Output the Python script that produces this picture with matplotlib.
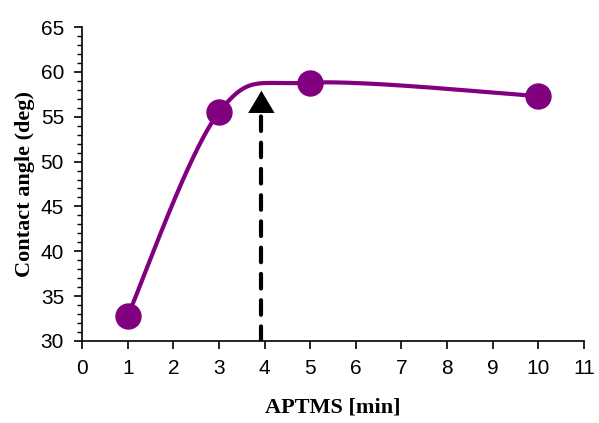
import numpy as np
import matplotlib.pyplot as plt
from matplotlib.ticker import MultipleLocator

# data
aptms_min = [1, 3, 5, 10]
contact_angle = [32.8, 55.5, 58.8, 57.3]
arrow_x = 3.93
arrow_top = 57.9


def excel_smooth(xs, ys, n=60):
    """Bezier smoothing through the points, like a spreadsheet 'smoothed line'."""
    p = np.column_stack([xs, ys]).astype(float)
    p = np.vstack([p[0], p, p[-1]])
    out = []
    for i in range(1, len(p) - 2):
        p0, p1, p2, p3 = p[i - 1], p[i], p[i + 1], p[i + 2]
        c1 = p1 + (p2 - p0) / 6.0
        c2 = p2 - (p3 - p1) / 6.0
        t = np.linspace(0, 1, n)[:, None]
        seg = ((1 - t) ** 3) * p1 + 3 * ((1 - t) ** 2) * t * c1 + 3 * (1 - t) * t ** 2 * c2 + t ** 3 * p2
        out.append(seg)
    curve = np.vstack(out)
    return curve[:, 0], curve[:, 1]


fig = plt.figure(figsize=(5.99, 4.23), dpi=100)
ax = fig.add_axes([0.137, 0.194, 0.838, 0.742])

purple = '#800080'
sx, sy = excel_smooth(aptms_min, contact_angle)
ax.plot(sx, sy, color=purple, lw=3, zorder=3)
ax.plot(aptms_min, contact_angle, 'o', color=purple, ms=18, zorder=4)

ax.plot([arrow_x, arrow_x], [30, arrow_top - 2.3], color='black', lw=3,
        ls=(0, (3.5, 2.8)), solid_capstyle='round', dash_capstyle='round', zorder=2)
ax.annotate('', xy=(arrow_x, arrow_top), xytext=(arrow_x, arrow_top - 2.5),
            arrowprops=dict(arrowstyle='-|>,head_length=1.6,head_width=0.95',
                            color='black', lw=0, shrinkA=0, shrinkB=0))

ax.set_xlim(0, 11)
ax.set_ylim(30, 65)
ax.xaxis.set_major_locator(MultipleLocator(1))
ax.yaxis.set_major_locator(MultipleLocator(5))
ax.yaxis.set_minor_locator(MultipleLocator(1))

for s in ['top', 'right']:
    ax.spines[s].set_visible(False)
for s in ['left', 'bottom']:
    ax.spines[s].set_linewidth(1.2)

ax.tick_params(which='major', direction='out', length=6, width=1.2,
               labelsize=15, pad=7)
ax.tick_params(which='minor', direction='out', length=3.5, width=1)
for lab in ax.get_xticklabels() + ax.get_yticklabels():
    lab.set_family('Liberation Sans')

ax.set_xlabel('APTMS [min]', family='Liberation Serif', fontweight='bold',
              fontsize=16, labelpad=14)
ax.set_ylabel('Contact angle (deg)', family='Liberation Serif', fontweight='bold',
              fontsize=16, labelpad=4)

fig.savefig('out.png', dpi=100)
